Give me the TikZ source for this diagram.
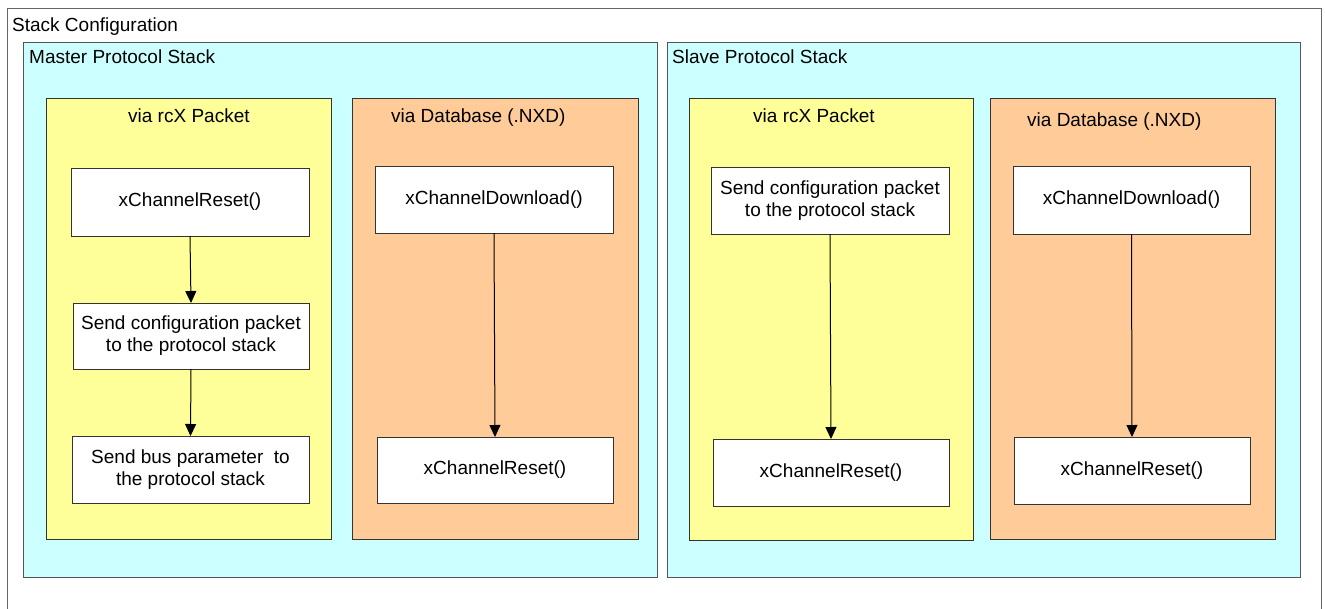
\documentclass[tikz,border=0pt]{standalone}
\usepackage{fontspec}
\setmainfont{Liberation Sans}
\usetikzlibrary{arrows.meta}
\definecolor{cyanfill}{HTML}{CCFFFF}
\definecolor{yellowfill}{HTML}{FFFF99}
\definecolor{orangefill}{HTML}{FFCC99}
\definecolor{frameline}{HTML}{555555}
\tikzset{
  every node/.style={font=\fontsize{19}{22}\selectfont},
  container/.style={draw=frameline, line width=1pt, anchor=north west, inner sep=0pt, outer sep=0pt},
  stackbox/.style={container, fill=cyanfill},
  packetbox/.style={container, fill=yellowfill, draw=black!80},
  dbbox/.style={container, fill=orangefill, draw=black!80},
  stepbox/.style={draw=black!80, fill=white, line width=1pt, inner sep=0pt, outer sep=0pt, align=center, minimum width=237pt, minimum height=67pt},
  label/.style={anchor=base west, inner sep=0pt},
  flow/.style={-{Triangle[width=11pt,length=12pt]}, line width=1pt, black}
}
\begin{document}
\begin{tikzpicture}[x=1pt,y=-1pt]
\useasboundingbox (0,0) rectangle (1325,608);
\clip (0,0) rectangle (1325,608);
% outer frame
\node[container, draw=black!60, minimum width=1314pt, minimum height=620pt] (outer) at (7,8) {};
\node[label] (outerlbl) at (12,31) {Stack Configuration};
% master / slave stacks
\node[stackbox, minimum width=634pt, minimum height=535pt] (master) at (23,42) {};
\node[label] (masterlbl) at (29,63) {Master Protocol Stack};
\node[stackbox, minimum width=633pt, minimum height=535pt] (slave) at (667,42) {};
\node[label] (slavelbl) at (672,63) {Slave Protocol Stack};
% sub containers
\node[packetbox, minimum width=285pt, minimum height=441pt] (mpk) at (46,98) {};
\node[label] (mpklbl) at (128,122) {via rcX Packet};
\node[dbbox, minimum width=286pt, minimum height=441pt] (mdb) at (352,98) {};
\node[label] (mdblbl) at (391,122) {via Database (.NXD)};
\node[packetbox, minimum width=284pt, minimum height=442pt] (spk) at (689,98) {};
\node[label] (spklbl) at (753,122) {via rcX Packet};
\node[dbbox, minimum width=285pt, minimum height=441pt] (sdb) at (990,98) {};
\node[label] (sdblbl) at (1027,126) {via Database (.NXD)};
% steps
\node[stepbox, minimum width=238pt, minimum height=68pt] (m1) at (190,202) {xChannelReset()};
\node[stepbox, minimum width=236pt, minimum height=66pt] (m2) at (191,336) {Send configuration packet\\to the protocol stack};
\node[stepbox, minimum width=237pt, minimum height=67pt] (m3) at (190.5,469.5) {Send bus parameter\ \ to\\the protocol stack};
\node[stepbox, minimum width=238pt, minimum height=67pt] (m4) at (494,199.5) {xChannelDownload()};
\node[stepbox, minimum width=236pt, minimum height=66pt] (m5) at (495,470) {xChannelReset()};
\node[stepbox, minimum width=238pt, minimum height=67pt] (s1) at (830,200.5) {Send configuration packet\\to the protocol stack};
\node[stepbox, minimum width=236pt, minimum height=67pt] (s2) at (831,472.5) {xChannelReset()};
\node[stepbox, minimum width=237pt, minimum height=68pt] (s3) at (1131.5,200) {xChannelDownload()};
\node[stepbox, minimum width=236pt, minimum height=67pt] (s4) at (1132,470.5) {xChannelReset()};
% connectors
\draw[flow] (m1.south) -- (m2.north);
\draw[flow] (m2.south) -- (m3.north);
\draw[flow] (m4.south) -- (m5.north);
\draw[flow] (s1.south) -- (s2.north);
\draw[flow] (s3.south) -- (s4.north);
\end{tikzpicture}
\end{document}
